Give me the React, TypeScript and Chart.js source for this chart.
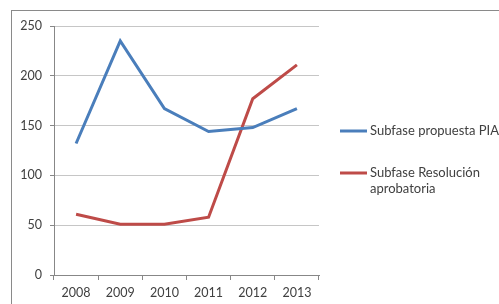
import React, { useEffect, useRef } from "react";
import { Chart, registerables } from "chart.js";

Chart.register(...registerables);

const years = ["2008", "2009", "2010", "2011", "2012", "2013"];
const propuestaPIA = [132, 235, 167, 144, 148, 167];
const resolucionAprobatoria = [61, 51, 51, 58, 177, 211];
const seriesLabels: string[][] = [["Subfase propuesta PIA"], ["Subfase Resolución", "aprobatoria"]];
const seriesColors = ["#4A7EBB", "#BE4B48"];
const yMin = 0;
const yMax = 250;
const yStep = 50;

const FONT = "Lato, 'Open Sans', 'Liberation Sans', sans-serif";
const TEXT_COLOR = "#404040";
const AXIS_COLOR = "#878787";
const GRID_COLOR = "#C6C6C6";

const framePlugin = {
  id: "frame",
  beforeDraw(chart: any) {
    const ctx = chart.ctx;
    ctx.save();
    ctx.fillStyle = "#ffffff";
    ctx.fillRect(0, 0, chart.width, chart.height);
    ctx.strokeStyle = "#8A8A8A";
    ctx.lineWidth = 1;
    ctx.strokeRect(11.5, 10.5, 700, 500);
    ctx.restore();
  },
};

const sideLegendPlugin = {
  id: "sideLegend",
  afterDraw(chart: any) {
    const ctx = chart.ctx;
    const area = chart.chartArea;
    const x0 = area.right + 21;
    const lineLen = 27;
    const tops = [131, 173];
    ctx.save();
    ctx.font = `13px ${FONT}`;
    ctx.textBaseline = "middle";
    ctx.textAlign = "left";
    chart.data.datasets.forEach((ds: any, i: number) => {
      const y = tops[i];
      ctx.strokeStyle = ds.borderColor;
      ctx.lineWidth = 3;
      ctx.beginPath();
      ctx.moveTo(x0, y);
      ctx.lineTo(x0 + lineLen, y);
      ctx.stroke();
      ctx.fillStyle = TEXT_COLOR;
      seriesLabels[i].forEach((line, j) => {
        ctx.fillText(line, x0 + lineLen + 3, y + j * 16);
      });
    });
    ctx.restore();
  },
};

export default function App() {
  const ref = useRef<HTMLCanvasElement | null>(null);

  useEffect(() => {
    if (!ref.current) return;
    const chart = new Chart(ref.current, {
      type: "line",
      data: {
        labels: years,
        datasets: [
          {
            label: seriesLabels[0].join(" "),
            data: propuestaPIA,
            borderColor: seriesColors[0],
            backgroundColor: seriesColors[0],
            borderWidth: 3,
            pointRadius: 0,
            tension: 0,
          },
          {
            label: seriesLabels[1].join(" "),
            data: resolucionAprobatoria,
            borderColor: seriesColors[1],
            backgroundColor: seriesColors[1],
            borderWidth: 3,
            pointRadius: 0,
            tension: 0,
          },
        ],
      },
      options: {
        responsive: false,
        animation: false,
        devicePixelRatio: 1,
        layout: { padding: { left: 12, top: 26, right: 180, bottom: 0 } },
        plugins: {
          legend: { display: false },
          tooltip: { enabled: false },
        },
        scales: {
          x: {
            offset: true,
            grid: {
              offset: true,
              drawOnChartArea: false,
              drawTicks: true,
              tickLength: 5,
              tickColor: AXIS_COLOR,
            },
            border: { color: AXIS_COLOR, width: 1 },
            ticks: {
              color: TEXT_COLOR,
              font: { family: FONT, size: 12.5 },
              padding: 5,
              maxRotation: 0,
            },
            afterFit(scale: any) {
              scale.height = 29;
            },
          },
          y: {
            min: yMin,
            max: yMax,
            grid: {
              color: GRID_COLOR,
              tickColor: AXIS_COLOR,
              tickLength: 4,
            },
            border: { color: AXIS_COLOR, width: 1 },
            ticks: {
              stepSize: yStep,
              color: TEXT_COLOR,
              font: { family: FONT, size: 12.5 },
              padding: 8,
            },
            afterFit(scale: any) {
              scale.width = 42;
            },
          },
        },
      },
      plugins: [framePlugin, sideLegendPlugin],
    });
    return () => chart.destroy();
  }, []);

  return (
    <div style={{ position: "fixed", left: 0, top: 0, width: 499, height: 304, background: "#fff" }}>
      <canvas ref={ref} width={499} height={304} />
    </div>
  );
}
